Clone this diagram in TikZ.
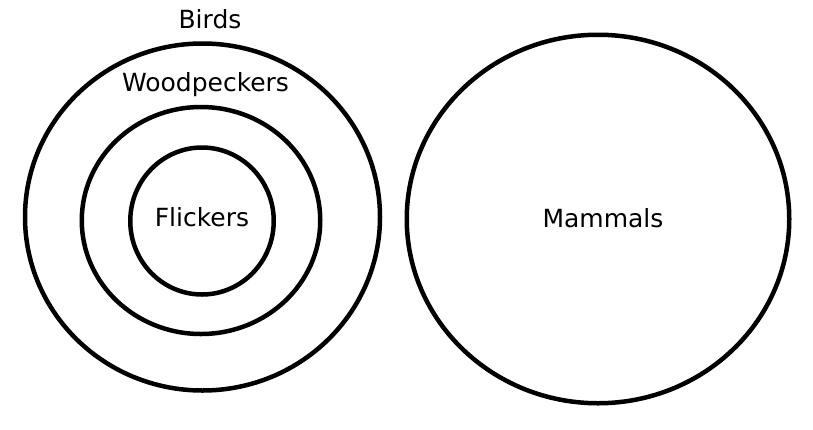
\documentclass[tikz,border=0pt]{standalone}
\usepackage{fontspec}
\setmainfont{DejaVu Sans}
\usetikzlibrary{shapes.geometric}
\begin{document}
\begin{tikzpicture}[x=1pt,y=-1pt,
  ring/.style={draw=black,line width=4.5pt,ellipse,inner sep=0pt,outer sep=0pt},
  lbl/.style={inner sep=0pt,anchor=base,font=\fontsize{25}{30}\selectfont}]
\useasboundingbox (0,0) rectangle (813,429);
\node[ring,minimum width=355pt,minimum height=347pt] (birds) at (202.5,217) {};
\node[ring,minimum width=238.5pt,minimum height=227pt] (woodpeckers) at (201,220.5) {};
\node[ring,minimum width=143.5pt,minimum height=147pt] (flickers) at (202,221) {};
\node[ring,minimum width=382.5pt,minimum height=368.5pt] (mammals) at (598,219) {};
\node[lbl] (tbirds) at (210,28.3) {Birds};
\node[lbl] (twood) at (205.5,91.7) {Woodpeckers};
\node[lbl] (tflick) at (202,226.7) {Flickers};
\node[lbl] (tmam) at (603,227.7) {Mammals};
\end{tikzpicture}
\end{document}
